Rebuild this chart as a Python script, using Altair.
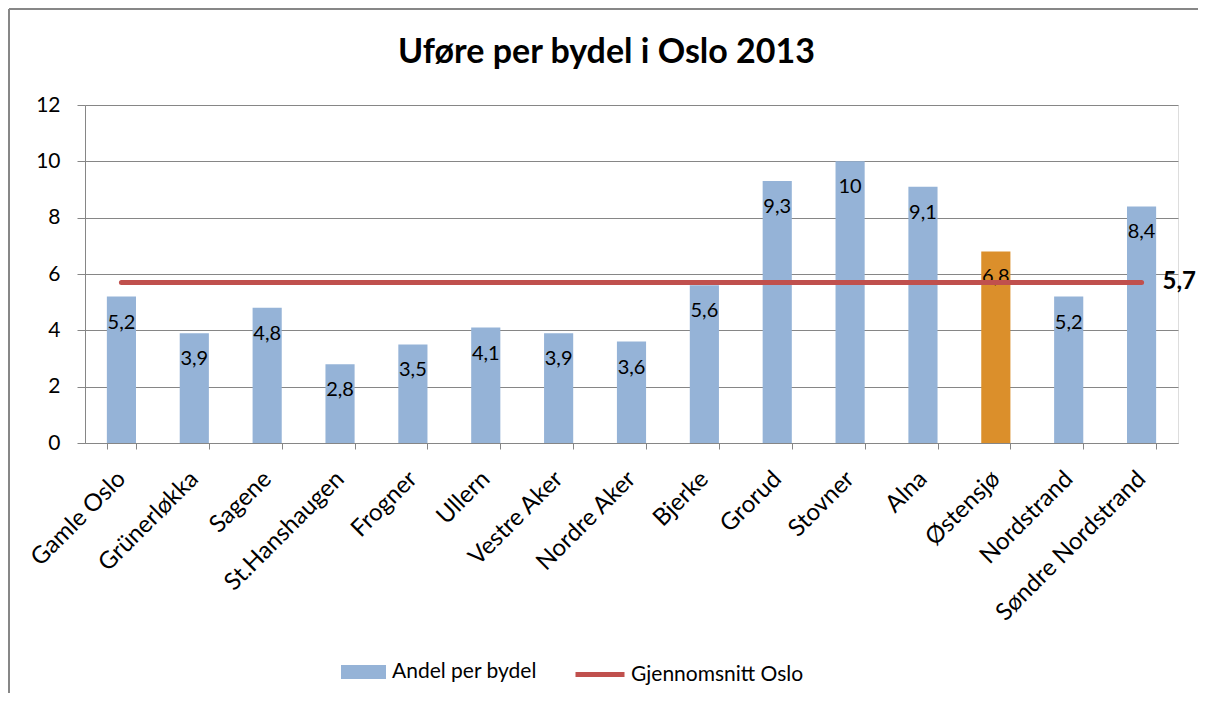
import altair as alt
import pandas as pd

# ---- data ----
bydeler = ["Gamle Oslo", "Grünerløkka", "Sagene", "St.Hanshaugen", "Frogner", "Ullern",
           "Vestre Aker", "Nordre Aker", "Bjerke", "Grorud", "Stovner", "Alna",
           "Østensjø", "Nordstrand", "Søndre Nordstrand"]
andel = [5.2, 3.9, 4.8, 2.8, 3.5, 4.1, 3.9, 3.6, 5.6, 9.3, 10, 9.1, 6.8, 5.2, 8.4]
snitt_oslo = 5.7
uthevet = "Østensjø"
serie_bar = "Andel per bydel"
serie_linje = "Gjennomsnitt Oslo"
y_ticks = [0, 2, 4, 6, 8, 10, 12]
tittel = "Uføre per bydel i Oslo 2013"

FONT = "Lato"
BLUE = "#95B3D7"
ORANGE = "#DB8F2B"
RED = "#C0504D"
GRID = "#868686"
FRAME = "#878787"

def komma(v):
    return f"{v:g}".replace(".", ",")

df = pd.DataFrame({"bydel": bydeler, "andel": andel, "serie": serie_bar})
df["etikett"] = [komma(v) for v in andel]

snitt_df = pd.DataFrame({"fra": [bydeler[0]], "til": [bydeler[-1]], "andel": [snitt_oslo],
                         "serie": [serie_linje], "etikett": [komma(snitt_oslo)]})

W, H = 1093, 338
PAD_L, PAD_T, PAD_R, PAD_B = 77, 97, 20, 250

x_scale = alt.Scale(domain=bydeler, paddingInner=0.6, paddingOuter=0.3)
y_scale = alt.Scale(domain=[0, 12])

x_axis = alt.Axis(labelAngle=-45, labelAlign="right", labelBaseline="middle",
                  labelFontSize=24, labelFont=FONT, labelColor="black",
                  tickBand="extent", tickSize=6, tickColor=GRID, domainColor=GRID,
                  labelPadding=26, grid=False, title=None, labelOverlap=False,
                  labelLimit=0)
y_axis = alt.Axis(values=y_ticks, labelFontSize=21, labelFont=FONT, labelColor="black",
                  tickSize=8, tickColor=GRID, domainColor=GRID, gridColor=GRID,
                  gridOpacity=1, labelPadding=17, title=None)

def X(field):
    return alt.X(f"{field}:N", scale=x_scale, sort=bydeler, axis=x_axis, title=None)

def Y(field):
    return alt.Y(f"{field}:Q", scale=y_scale, axis=y_axis, title=None)

bars = alt.Chart(df).mark_bar().encode(
    x=X("bydel"),
    y=Y("andel"),
    color=alt.condition(
        alt.datum.bydel == uthevet,
        alt.value(ORANGE),
        alt.Color("serie:N", scale=alt.Scale(domain=[serie_bar], range=[BLUE]),
                  legend=alt.Legend(title=None, orient="none", legendX=256, legendY=544.5,
                                    symbolType="M-1,-0.31H1V0.31H-1Z", symbolSize=2025,
                                    symbolStrokeWidth=0, labelOffset=6, labelLimit=0,
                                    labelFontSize=21, labelFont=FONT, labelColor="black")),
    ),
)

bar_labels = alt.Chart(df).mark_text(dy=26, baseline="middle", fontSize=20, font=FONT,
                                     color="black").encode(
    x=X("bydel"), y=Y("andel"), text="etikett:N")

snitt_line = alt.Chart(snitt_df).mark_rule(strokeWidth=5, strokeCap="round").encode(
    x=X("fra"), x2="til:N", y=Y("andel"),
    stroke=alt.Stroke("serie:N", scale=alt.Scale(domain=[serie_linje], range=[RED]),
                      legend=alt.Legend(title=None, orient="none", legendX=488, legendY=542.5,
                                        symbolType="stroke", symbolSize=2401,
                                        symbolStrokeWidth=5, labelOffset=4, labelLimit=0,
                                        labelFontSize=21, labelFont=FONT, labelColor="black")),
)

snitt_label = alt.Chart(snitt_df).mark_text(align="left", baseline="middle", dx=21,
                                            fontSize=24, fontWeight="bold", font=FONT,
                                            color="black").encode(
    x=X("til"), y=Y("andel"), text="etikett:N")

ramme = pd.DataFrame({"r": [0]})
ramme_top = alt.Chart(ramme).mark_rule(color=FRAME, strokeWidth=2).encode(
    x=alt.value(-PAD_L + 1), x2=alt.value(W + PAD_R), y=alt.value(-PAD_T + 1))
ramme_left = alt.Chart(ramme).mark_rule(color=FRAME, strokeWidth=2).encode(
    x=alt.value(-PAD_L + 1), y=alt.value(-PAD_T + 1), y2=alt.value(H + PAD_B))

chart = alt.layer(bars, bar_labels, snitt_line, snitt_label, ramme_top, ramme_left).properties(
    width=W, height=H,
    autosize=alt.AutoSizeParams(type="none"),
    padding={"left": PAD_L, "top": PAD_T, "right": PAD_R, "bottom": PAD_B},
    title=alt.TitleParams(tittel, fontSize=34, font=FONT, fontWeight="bold",
                          anchor="middle", frame="group", baseline="alphabetic",
                          dx=-25, offset=-89, color="black"),
).configure_view(stroke=None).configure(background="white")

chart.save("out.html", embed_options={"renderer": "svg", "actions": False})
